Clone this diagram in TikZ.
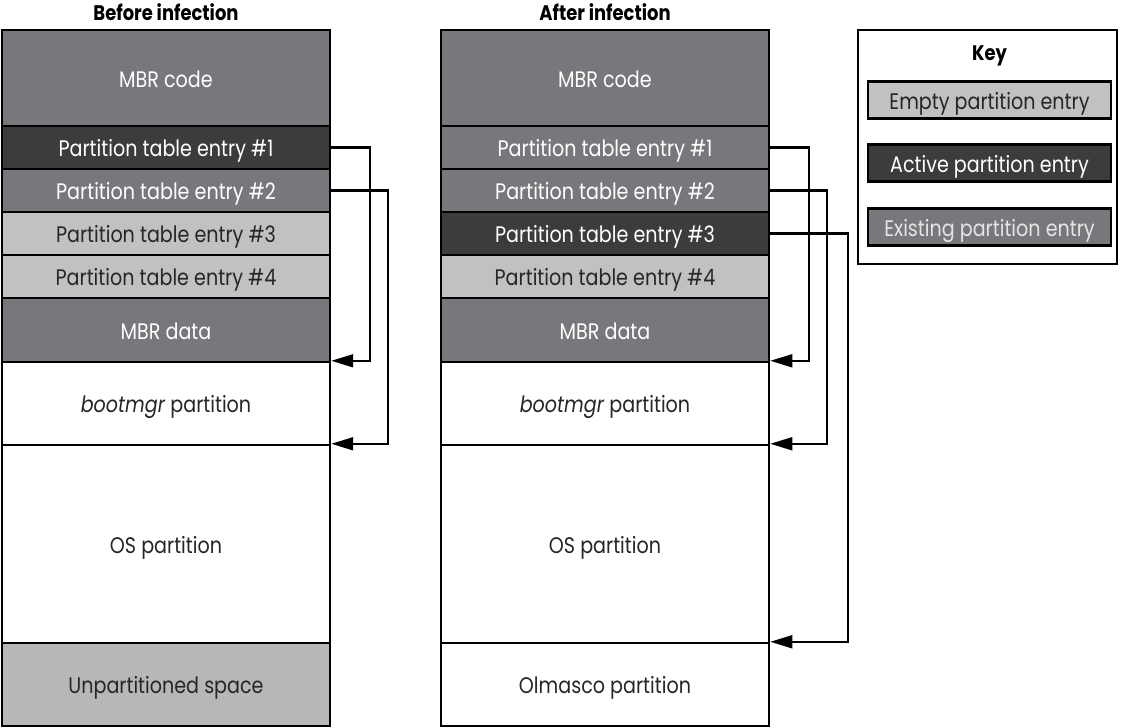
\documentclass[tikz,border=0pt]{standalone}
\usepackage{fontspec}
\setmainfont{Poppins}[FakeStretch=0.85]
\usetikzlibrary{arrows.meta}
\definecolor{exgray}{HTML}{77787B}
\definecolor{actgray}{HTML}{3C3C3C}
\definecolor{emptgray}{HTML}{C1C1C1}
\tikzset{
  blk/.style={draw=black, line width=1.7pt, inner sep=0pt, minimum width=8.2cm, text height=13pt, text depth=0pt, font=\fontsize{16}{17}\selectfont},
  exist/.style={blk, fill=exgray, text=white},
  act/.style={blk, fill=actgray, text=white},
  empt/.style={blk, fill=emptgray, text=black!85},
  part/.style={blk, fill=white, text=black!85},
  link/.style={draw=black, line width=1.7pt, -{Triangle[length=0.55cm, width=0.32cm]}},
  ttl/.style={font=\fontsize{15}{16}\selectfont\bfseries},
  keyitem/.style={blk, minimum width=6.07cm, minimum height=0.93cm}
}
\begin{document}
\begin{tikzpicture}[x=0.025cm, y=-0.025cm]
				\useasboundingbox (0,0) rectangle (1122,728);
				
				% before infection
				\node[ttl] (tb) at (166,12) {Before infection};
				\node[exist, minimum height=2.4cm] (bcode) at (166,78) {MBR code};
				\node[act, minimum height=1.075cm] (be1) at (166,147.5) {Partition table entry \#1};
				\node[exist, minimum height=1.075cm] (be2) at (166,190.5) {Partition table entry \#2};
				\node[empt, minimum height=1.075cm] (be3) at (166,233.5) {Partition table entry \#3};
				\node[empt, minimum height=1.075cm] (be4) at (166,276.5) {Partition table entry \#4};
				\node[exist, minimum height=1.6cm] (bdata) at (166,330) {MBR data};
				\node[part, minimum height=2.075cm] (bboot) at (166,403.5) {\textit{bootmgr} partition};
				\node[part, minimum height=4.95cm] (bos) at (166,544) {OS partition};
				\node[empt, fill=emptgray!95!black, minimum height=2.075cm] (bfree) at (166,684.5) {Unpartitioned space};
				
				\draw[link] (be1.east) -- ++(39,0) |- (bboot.north east);
				\draw[link] (be2.east) -- ++(57,0) |- (bos.north east);
				
				% after infection
				\node[ttl] (ta) at (605,12) {After infection};
				\node[exist, minimum height=2.4cm] (acode) at (605,78) {MBR code};
				\node[exist, minimum height=1.075cm] (ae1) at (605,147.5) {Partition table entry \#1};
				\node[exist, minimum height=1.075cm] (ae2) at (605,190.5) {Partition table entry \#2};
				\node[act, minimum height=1.075cm] (ae3) at (605,233.5) {Partition table entry \#3};
				\node[empt, minimum height=1.075cm] (ae4) at (605,276.5) {Partition table entry \#4};
				\node[exist, minimum height=1.6cm] (adata) at (605,330) {MBR data};
				\node[part, minimum height=2.075cm] (aboot) at (605,403.5) {\textit{bootmgr} partition};
				\node[part, minimum height=4.95cm] (aos) at (605,544) {OS partition};
				\node[part, minimum height=2.075cm] (aolm) at (605,684.5) {Olmasco partition};
				
				\draw[link] (ae1.east) -- ++(39,0) |- (aboot.north east);
				\draw[link] (ae2.east) -- ++(57,0) |- (aos.north east);
				\draw[link] (ae3.east) -- ++(78,0) |- (aolm.north east);
				
				% key
				\node[blk, fill=white, minimum width=6.475cm, minimum height=5.85cm] (key) at (987.5,147) {};
				\node[ttl] (keyt) at (989.5,56) {Key};
				\node[keyitem, fill=emptgray, text=black!85] (kempt) at (989.5,100) {Empty partition entry};
				\node[keyitem, fill=actgray, text=white] (kact) at (989.5,163) {Active partition entry};
				\node[keyitem, fill=exgray, text=white!90!black] (kex) at (989.5,227) {Existing partition entry};
\end{tikzpicture}
\end{document}
